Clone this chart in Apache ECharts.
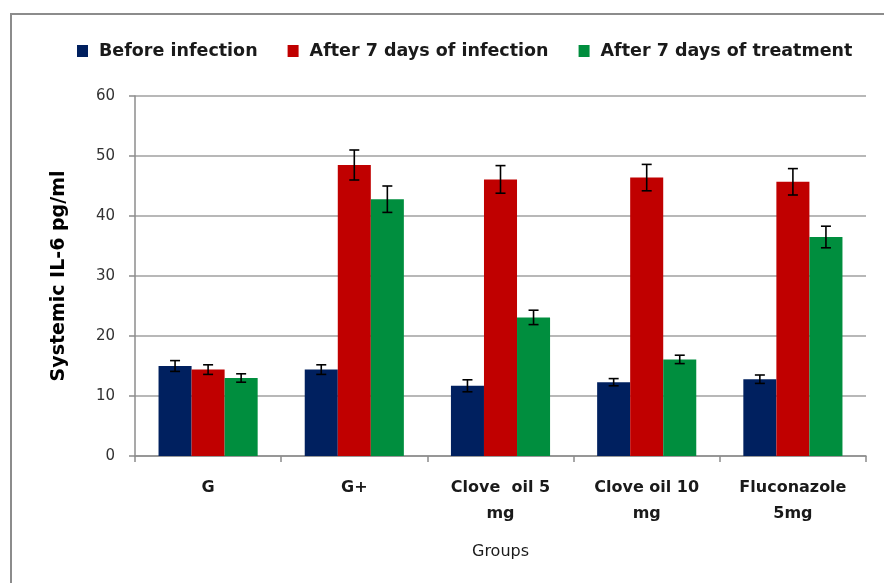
<!DOCTYPE html>
<html>
<head>
<meta charset="utf-8">
<script src="https://cdn.jsdelivr.net/npm/echarts@6/dist/echarts.min.js"></script>
<style>
  html, body { margin: 0; padding: 0; background: #fff; }
  #chart { width: 884px; height: 583px; }
</style>
</head>
<body>
<div id="chart"></div>
<script>
var groups = ['G', 'G+', 'Clove  oil 5\nmg', 'Clove oil 10\nmg', 'Fluconazole\n5mg'];
var seriesNames = ['Before infection', 'After 7 days of infection', 'After 7 days of treatment'];
var colors = ['#00205F', '#C00000', '#008E3E'];

// mean values
var beforeInfection = [15.0, 14.4, 11.7, 12.3, 12.8];
var afterInfection = [14.4, 48.5, 46.1, 46.4, 45.7];
var afterTreatment = [13.0, 42.8, 23.1, 16.1, 36.5];

// error (+/-)
var errBefore = [0.9, 0.8, 1.0, 0.6, 0.7];
var errInfection = [0.8, 2.5, 2.3, 2.2, 2.2];
var errTreatment = [0.7, 2.2, 1.2, 0.7, 1.8];

var values = [beforeInfection, afterInfection, afterTreatment];
var errors = [errBefore, errInfection, errTreatment];

var chart = echarts.init(document.getElementById('chart'));
var barFrac = 0.226;
var font = '"DejaVu Sans", sans-serif';

function errorSeries(k) {
    var data = values[k].map(function (v, i) {
        return [i, v - errors[k][i], v + errors[k][i]];
    });
    return {
        type: 'custom',
        name: seriesNames[k] + ' err',
        z: 10,
        silent: true,
        renderItem: function (params, api) {
            var band = api.size([1, 0])[0];
            var off = (k - 1) * band * barFrac;
            var lo = api.coord([api.value(0), api.value(1)]);
            var hi = api.coord([api.value(0), api.value(2)]);
            var x = lo[0] + off;
            var cap = 5;
            var st = { stroke: '#000', lineWidth: 1.6 };
            return {
                type: 'group',
                children: [
                    { type: 'line', shape: { x1: x, y1: hi[1], x2: x, y2: lo[1] }, style: st },
                    { type: 'line', shape: { x1: x - cap, y1: hi[1], x2: x + cap, y2: hi[1] }, style: st },
                    { type: 'line', shape: { x1: x - cap, y1: lo[1], x2: x + cap, y2: lo[1] }, style: st }
                ]
            };
        },
        data: data
    };
}

var series = [];
for (var k = 0; k < 3; k++) {
    series.push({
        type: 'bar',
        name: seriesNames[k],
        data: values[k],
        barWidth: (barFrac * 100) + '%',
        barGap: '0%',
        itemStyle: { color: colors[k] }
    });
}
for (var k = 0; k < 3; k++) series.push(errorSeries(k));

var option = {
    backgroundColor: '#fff',
    animation: false,
    graphic: [{
        type: 'rect',
        shape: { x: 11, y: 14, width: 900, height: 600 },
        style: { fill: 'none', stroke: '#8c8c8c', lineWidth: 2 },
        silent: true
    }],
    legend: {
        data: seriesNames,
        top: 37,
        left: 72,
        itemWidth: 11,
        itemHeight: 12,
        itemGap: 30,
        icon: 'rect',
        textStyle: {
            fontFamily: font, fontWeight: 'bold', fontSize: 17.5, color: '#1a1a1a',
            padding: [0, 0, 0, 6]
        }
    },
    grid: { left: 135, right: 18, top: 96, bottom: 127 },
    xAxis: {
        type: 'category',
        data: groups,
        name: 'Groups',
        nameLocation: 'middle',
        nameGap: 88,
        nameTextStyle: { fontFamily: font, fontSize: 16, color: '#1a1a1a' },
        axisLine: { lineStyle: { color: '#8c8c8c', width: 1.5 } },
        axisTick: { show: true, length: 6, lineStyle: { color: '#8c8c8c', width: 1.5 } },
        axisLabel: {
            fontFamily: font, fontWeight: 'bold', fontSize: 16, color: '#1a1a1a',
            margin: 19, lineHeight: 26
        }
    },
    yAxis: {
        type: 'value',
        min: 0,
        max: 60,
        interval: 10,
        name: 'Systemic IL-6 pg/ml',
        nameLocation: 'middle',
        nameGap: 66,
        nameTextStyle: { fontFamily: font, fontWeight: 'bold', fontSize: 19, color: '#000' },
        axisLine: { show: true, lineStyle: { color: '#8c8c8c', width: 1.5 } },
        axisTick: { show: true, length: 6, lineStyle: { color: '#8c8c8c', width: 1.5 } },
        axisLabel: { fontFamily: font, fontSize: 15, color: '#333', margin: 20 },
        splitLine: { lineStyle: { color: '#a0a0a0', width: 1.5 } }
    },
    series: series
};

chart.setOption(option);
</script>
</body>
</html>
